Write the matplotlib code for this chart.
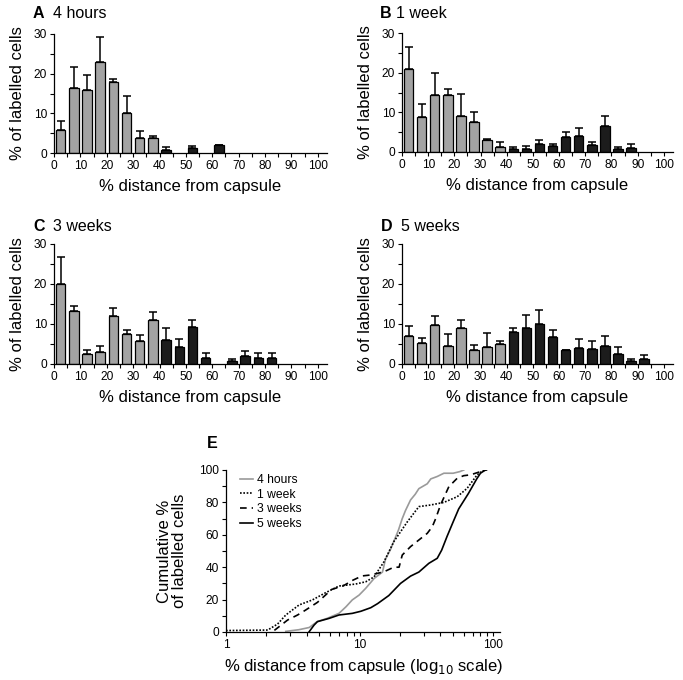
import matplotlib
matplotlib.use("Agg")
import matplotlib.pyplot as plt
import numpy as np
from matplotlib.ticker import MultipleLocator, FixedLocator, NullFormatter, LogLocator

plt.rcParams['font.family'] = ['Liberation Sans', 'DejaVu Sans']

# ---------------- data ----------------
bin_starts = [0, 5, 10, 15, 20, 25, 30, 35, 40, 45, 50, 55, 60, 65, 70, 75, 80, 85, 90, 95]

A_vals = [5.8, 16.4, 16.0, 23.0, 17.8, 10.1, 3.7, 3.8, 0.8, 0, 1.2, 0, 1.9, 0, 0, 0, 0, 0, 0, 0]
A_err = [2.2, 5.2, 3.6, 6.3, 0.8, 4.2, 1.8, 0.6, 0.7, 0, 0.6, 0, 0.2, 0, 0, 0, 0, 0, 0, 0]

B_vals = [20.8, 8.8, 14.3, 14.3, 9.1, 7.6, 3.0, 1.3, 0.8, 0.8, 2.1, 1.4, 3.8, 4.1, 1.7, 6.6, 0.8, 1.1, 0, 0]
B_err = [5.6, 3.3, 5.6, 1.7, 5.4, 2.4, 0.4, 1.2, 0.5, 0.6, 1.0, 0.7, 1.2, 2.0, 0.7, 2.6, 0.5, 0.8, 0, 0]

C_vals = [20.0, 13.2, 2.4, 2.9, 12.1, 7.6, 5.7, 10.9, 5.9, 4.3, 9.3, 1.4, 0, 0.75, 2.1, 1.4, 1.4, 0, 0, 0]
C_err = [6.8, 1.3, 1.2, 1.7, 2.0, 0.8, 1.5, 2.2, 3.0, 1.9, 1.6, 1.3, 0, 0.55, 1.1, 1.3, 1.3, 0, 0, 0]

D_vals = [7.0, 5.2, 9.7, 4.6, 8.9, 3.5, 4.3, 5.1, 7.9, 8.9, 9.9, 6.8, 3.5, 4.0, 3.7, 4.6, 2.5, 0.75, 1.2, 0]
D_err = [2.5, 1.2, 2.3, 2.8, 2.2, 1.2, 3.5, 0.7, 1.2, 3.3, 3.6, 1.6, 0.1, 2.3, 2.1, 2.4, 1.7, 0.5, 1.1, 0]

panel_letters = ['A', 'B', 'C', 'D']
panel_titles = ['4 hours', '1 week', '3 weeks', '5 weeks']

# cumulative curves (panel E)
h4_x = [2.8, 3.5, 4.2, 4.8, 5.7, 7.0, 7.9, 8.8, 9.9, 11.1, 12.8, 14.8, 15.6, 17.0, 18.0, 19.5,
        20.8, 22.0, 24.0, 26.0, 27.7, 32.0, 34.0, 38.0, 42.6, 50.0, 56.0, 60.0]
h4_y = [0.4, 1.4, 2.8, 6.4, 8.4, 11.5, 15.6, 19.8, 22.8, 27.0, 33.0, 37.0, 45.0, 51.0, 56.0, 63.0,
        70.0, 75.0, 81.5, 85.0, 88.5, 91.5, 94.5, 96.0, 98.0, 98.0, 99.0, 100.0]

w1_x = [1.0, 2.05, 2.43, 2.8, 3.52, 4.43, 5.57, 7.0, 9.3, 11.1, 12.8, 15.2, 18.0, 22.7, 27.7,
        33.9, 42.6, 53.6, 63.6, 75.5, 84.7, 90.0]
w1_y = [0.9, 1.2, 4.9, 10.5, 16.7, 19.8, 24.3, 28.4, 29.6, 31.0, 34.0, 43.4, 55.8, 68.0, 77.4,
        78.4, 80.0, 83.5, 88.7, 97.0, 100.0, 100.0]

w3_x = [2.3, 2.89, 3.43, 3.95, 4.83, 6.18, 7.5, 8.9, 10.4, 12.1, 15.2, 18.0, 19.7, 20.8, 24.0,
        27.7, 32.0, 34.9, 37.0, 40.2, 46.4, 53.6, 60.0, 67.3, 80.0, 88.0]
w3_y = [1.0, 7.4, 10.5, 13.6, 18.3, 26.3, 28.4, 32.0, 34.6, 35.2, 37.2, 40.0, 40.0, 47.5, 52.7,
        56.8, 60.9, 65.0, 70.0, 78.4, 89.7, 94.9, 96.5, 97.0, 99.0, 100.0]

w5_x = [4.19, 4.56, 4.83, 5.9, 7.0, 8.8, 10.2, 12.1, 13.6, 16.5, 20.2, 24.0, 27.7, 32.9, 38.0,
        41.0, 45.0, 50.0, 55.0, 65.0, 75.0, 80.0, 87.0]
w5_y = [0.2, 4.3, 6.4, 8.4, 10.5, 11.5, 12.8, 15.0, 17.5, 22.5, 30.0, 34.5, 37.0, 42.4, 45.5,
        50.5, 59.0, 68.0, 76.0, 85.5, 94.5, 98.0, 100.0]

cum_labels = ['4 hours', '1 week', '3 weeks', '5 weeks']

# ---------------- figure ----------------
W, H = 683, 680
fig = plt.figure(figsize=(W / 100, H / 100), dpi=100)

def ax_rect(left, right, top, bottom):
    return [left / W, 1 - bottom / H, (right - left) / W, (bottom - top) / H]

TICK_FS = 8.6
LABEL_FS = 12
TITLE_FS = 11.5

bar_axes = [
    fig.add_axes(ax_rect(54, 327, 34, 153)),
    fig.add_axes(ax_rect(402, 673, 33, 152)),
    fig.add_axes(ax_rect(54, 327, 244, 364)),
    fig.add_axes(ax_rect(402, 673, 244, 364)),
]
vals_all = [A_vals, B_vals, C_vals, D_vals]
errs_all = [A_err, B_err, C_err, D_err]

GRAY = '#a3a3a3'
BLACK = '#1c1c1c'

for ax, vals, errs in zip(bar_axes, vals_all, errs_all):
    xs = [b + 2.5 for b, v in zip(bin_starts, vals) if v > 0]
    vs = [v for v in vals if v > 0]
    es = [e for v, e in zip(vals, errs) if v > 0]
    cols = [GRAY if b < 40 else BLACK for b, v in zip(bin_starts, vals) if v > 0]
    ax.errorbar(xs, vs, yerr=[np.zeros(len(es)), es], fmt='none', ecolor='black',
                elinewidth=1.1, capsize=3.2, capthick=1.1, zorder=1)
    ax.bar(xs, vs, width=3.6, color=cols, edgecolor='black', linewidth=0.9, zorder=2)
    ax.set_xlim(0, 103.5)
    ax.set_ylim(0, 30)
    ax.spines['top'].set_visible(False)
    ax.spines['right'].set_visible(False)
    ax.spines['left'].set_linewidth(0.9)
    ax.spines['bottom'].set_linewidth(0.9)
    ax.xaxis.set_major_locator(MultipleLocator(10))
    ax.xaxis.set_minor_locator(MultipleLocator(5))
    ax.yaxis.set_major_locator(MultipleLocator(10))
    ax.yaxis.set_minor_locator(MultipleLocator(5))
    ax.tick_params(which='both', direction='out', length=3, width=0.8, labelsize=TICK_FS, pad=2)
    ax.set_xlabel('% distance from capsule', fontsize=LABEL_FS, labelpad=5)
    ax.set_ylabel('% of labelled cells', fontsize=LABEL_FS, labelpad=6)

title_pos = [(33, 53, 18), (380, 396, 18), (33, 53, 231), (381, 401, 231)]
for (lx, tx, by), letter, title in zip(title_pos, panel_letters, panel_titles):
    fig.text(lx / W, 1 - by / H, letter, fontsize=TITLE_FS, fontweight='bold', va='baseline')
    fig.text(tx / W, 1 - by / H, title, fontsize=TITLE_FS, va='baseline')

# ---------------- panel E ----------------
axE = fig.add_axes(ax_rect(226, 500, 470, 632))
axE.plot(h4_x, h4_y, color='#9a9a9a', lw=1.2, label=cum_labels[0])
axE.plot(w1_x, w1_y, color='black', lw=1.2, ls=(0, (1, 1)), label=cum_labels[1])
axE.plot(w3_x, w3_y, color='black', lw=1.2, ls=(0, (4, 3)), label=cum_labels[2])
axE.plot(w5_x, w5_y, color='black', lw=1.2, ls='-', label=cum_labels[3])
axE.set_xscale('log')
axE.set_xlim(1, 112)
axE.set_ylim(0, 100)
axE.spines['top'].set_visible(False)
axE.spines['right'].set_visible(False)
axE.spines['left'].set_linewidth(0.9)
axE.spines['bottom'].set_linewidth(0.9)
axE.xaxis.set_major_locator(FixedLocator([1, 10, 100]))
axE.xaxis.set_minor_locator(LogLocator(base=10, subs=np.arange(2, 10)))
axE.xaxis.set_minor_formatter(NullFormatter())
axE.set_xticklabels(['1', '10', '100'])
axE.yaxis.set_major_locator(MultipleLocator(20))
axE.yaxis.set_minor_locator(MultipleLocator(10))
axE.tick_params(which='both', direction='out', length=3, width=0.8, labelsize=TICK_FS, pad=2)
axE.set_xlabel('% distance from capsule (log$_{10}$ scale)', fontsize=LABEL_FS, labelpad=4)
axE.set_ylabel('Cumulative %\nof labelled cells', fontsize=LABEL_FS, labelpad=9, linespacing=1.0)
axE.legend(loc='upper left', bbox_to_anchor=(0.05, 0.975), frameon=False, fontsize=8.7,
           handlelength=1.1, handletextpad=0.35, labelspacing=0.22, borderpad=0, borderaxespad=0)
fig.text(207 / W, 1 - 448 / H, 'E', fontsize=TITLE_FS, fontweight='bold', va='baseline')

fig.savefig('out.png', dpi=100)
